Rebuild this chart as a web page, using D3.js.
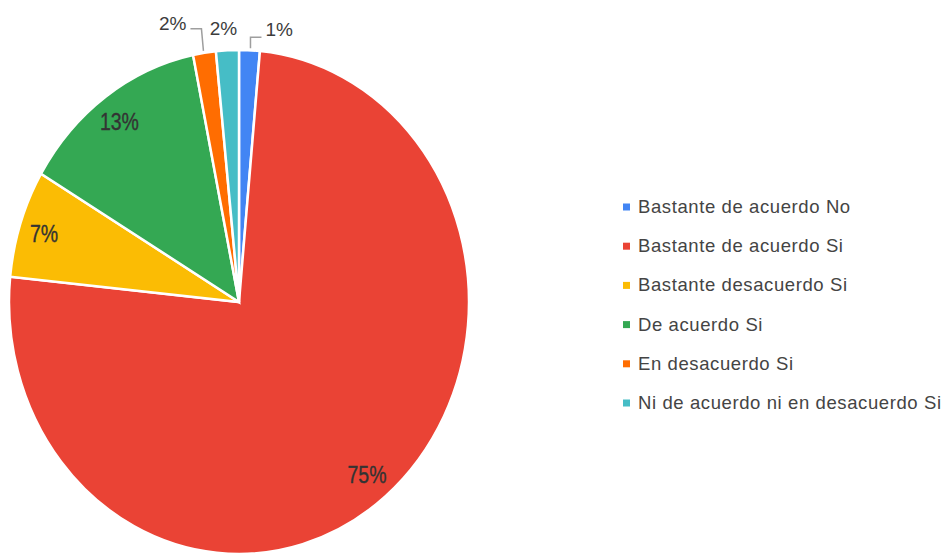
<!DOCTYPE html>
<html>
<head>
<meta charset="utf-8">
<script src="https://cdn.jsdelivr.net/npm/d3@7"></script>
<style>
  html, body { margin: 0; padding: 0; background: #fff; }
  svg { display: block; font-family: "Liberation Sans", Arial, sans-serif; }
</style>
</head>
<body>
<svg id="chart" width="948" height="555"></svg>
<script>
const categories = [
    'Bastante de acuerdo No',
    'Bastante de acuerdo Si',
    'Bastante desacuerdo Si',
    'De acuerdo Si',
    'En desacuerdo Si',
    'Ni de acuerdo ni en desacuerdo Si'
];
const values = [1.45, 75.15, 6.9, 13.3, 1.6, 1.6];
const colors = ['#4285f4', '#ea4335', '#fbbc04', '#34a853', '#ff6d01', '#46bdc6'];

const width = 948, height = 555;
const cx = 239, cy = 302;
const rx = 230, ry = 252;   // the picture is a little taller than wide

const svg = d3.select('#chart');

const data = categories.map((name, i) => ({ name, value: values[i], color: colors[i] }));

const pie = d3.pie().sort(null).value(d => d.value);
const arcs = pie(data);

const arc = d3.arc().innerRadius(0).outerRadius(rx);
const labelArc = d3.arc().innerRadius(rx * 0.885).outerRadius(rx * 0.885);

const sy = ry / rx;

const slices = svg.append('g')
    .attr('transform', `translate(${cx},${cy}) scale(1,${sy})`);

slices.selectAll('path')
    .data(arcs)
    .enter()
    .append('path')
    .attr('d', arc)
    .attr('fill', d => d.data.color)
    .attr('stroke', '#fff')
    .attr('stroke-width', 2.5)
    .attr('vector-effect', 'non-scaling-stroke');

const pct = d => Math.round(d.data.value) + '%';

// labels inside the big slices
const big = arcs.filter(d => d.data.value >= 5);
svg.append('g').selectAll('text')
    .data(big)
    .enter()
    .append('text')
    .attr('transform', d => {
        const [x, y] = labelArc.centroid(d);
        return `translate(${cx + x - 1.5},${cy + y * sy + 1}) scale(1,1.2)`;
    })
    .attr('text-anchor', 'middle')
    .attr('dy', '0.36em')
    .attr('font-size', 19.5)
    .attr('fill', '#333')
    .attr('stroke', '#333')
    .attr('stroke-width', 0.3)
    .text(pct);

// small slices get their labels outside, spread left / up / right
const small = arcs.filter(d => d.data.value < 5)
    .map(d => {
        const a = (d.startAngle + d.endAngle) / 2;
        return { d, ex: cx + rx * Math.sin(a), ey: cy - ry * Math.cos(a) };
    })
    .sort((a, b) => a.ex - b.ex);

const outer = svg.append('g');
small.forEach((s, i) => {
    const side = i === 0 ? -1 : (i === small.length - 1 ? 1 : 0);
    if (side === 0) {
        outer.append('text')
            .attr('x', s.ex - 4)
            .attr('y', s.ey - 15)
            .attr('text-anchor', 'middle')
            .attr('font-size', 19)
            .attr('fill', '#3c3c3c')
            .text(pct(s.d));
        return;
    }
    const topY = side < 0 ? s.ey - 24 : s.ey - 13;
    const baseX = side < 0 ? s.ex - 1 : s.ex + 1;
    const cornerX = side < 0 ? baseX - 2 : baseX;
    const endX = cornerX + side * 11;
    outer.append('path')
        .attr('d', `M${baseX},${s.ey - 2}L${cornerX},${topY}L${endX},${topY}`)
        .attr('fill', 'none')
        .attr('stroke', '#9e9e9e')
        .attr('stroke-width', 1.5);
    outer.append('text')
        .attr('x', endX + side * 4)
        .attr('y', topY + (side < 0 ? 1.5 : -1.5))
        .attr('text-anchor', side < 0 ? 'end' : 'start')
        .attr('font-size', 19)
        .attr('fill', '#3c3c3c')
        .text(pct(s.d));
});

// legend
const legend = svg.append('g').attr('transform', 'translate(623,207)');
const rowH = 39.2;

const rows = legend.selectAll('g')
    .data(data)
    .enter()
    .append('g')
    .attr('transform', (d, i) => `translate(0,${i * rowH})`);

rows.append('rect')
    .attr('x', 0)
    .attr('y', -3.5)
    .attr('width', 7)
    .attr('height', 7)
    .attr('fill', d => d.color);

rows.append('text')
    .attr('x', 15)
    .attr('y', 6)
    .attr('font-size', 18.5)
    .attr('letter-spacing', '0.6px')
    .attr('fill', '#444')
    .text(d => d.name);
</script>
</body>
</html>
